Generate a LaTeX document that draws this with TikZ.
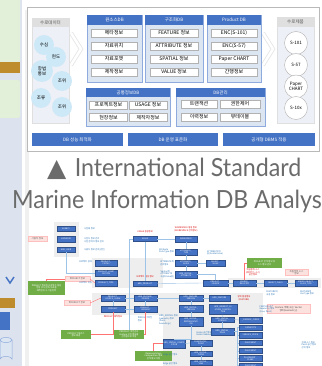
\documentclass[tikz,border=0pt]{standalone}
\usepackage{fontspec}
\setmainfont{Noto Sans CJK KR}
\newfontfamily\ttlfont{Lato}[FakeStretch=0.93]
\newfontfamily\trifont{DejaVu Sans}
\usetikzlibrary{positioning,calc}

\definecolor{hblue}{RGB}{68,114,196}
\definecolor{pfill}{RGB}{220,230,242}
\definecolor{pline}{RGB}{143,170,220}
\definecolor{lav}{RGB}{238,240,247}
\definecolor{bub}{RGB}{205,232,246}
\definecolor{tgreen}{RGB}{112,173,71}
\definecolor{tpink}{RGB}{251,226,222}
\definecolor{lblue}{RGB}{46,117,182}
\definecolor{lnblue}{RGB}{157,195,230}
\definecolor{strip}{RGB}{221,227,238}
\definecolor{ltgreen}{RGB}{226,239,217}
\definecolor{dbrown}{RGB}{190,140,45}

\tikzset{
  panel/.style={draw=pline, fill=pfill, line width=0.5pt},
  hdr/.style={fill=hblue, text=white, inner sep=0, font=\fontsize{4.5}{5}\selectfont},
  ghdr/.style={fill=gray!25, text=gray!70!black, inner sep=0, font=\fontsize{4.5}{5}\selectfont},
  item/.style={draw=gray!60, fill=white, inner sep=0, minimum height=8pt, font=\fontsize{5}{6}\selectfont},
  bubble/.style={circle, fill=bub, inner sep=0, minimum size=20pt, align=center, font=\fontsize{4.5}{5}\selectfont},
  prodc/.style={circle, draw=gray!60, fill=white, inner sep=0, minimum size=23pt, align=center, font=\fontsize{4.5}{4.5}\selectfont},
  dbbar/.style={fill=hblue, text=white, inner sep=0, minimum height=13pt, font=\fontsize{4.5}{5}\selectfont},
  chev/.style={draw=gray!20, double=white, double distance=2.5pt, line width=0.8pt},
  ttl/.style={inner sep=0, text=black!58, font=\ttlfont\fontsize{25}{25}\selectfont},
  tbl/.style={fill=hblue, draw=hblue!70!black, line width=0.2pt, text=white, inner sep=0, align=center, font=\fontsize{2}{2.3}\selectfont},
  grn/.style={fill=tgreen, text=white, inner sep=0, align=center, font=\fontsize{2.2}{2.6}\selectfont},
  pnk/.style={fill=tpink, draw=red!25, line width=0.2pt, text=gray!70!black, inner sep=0, align=center, font=\fontsize{2.4}{2.8}\selectfont},
  lbl/.style={text=lblue, inner sep=0, align=left, font=\fontsize{2.2}{2.6}\selectfont},
  rlbl/.style={text=red!85!black, inner sep=0, align=center, font=\fontsize{2.2}{2.6}\selectfont},
  cn/.style={draw=lnblue, line width=0.4pt},
  rc/.style={draw=red!55, line width=0.4pt},
  grp/.style={fill=gray!13}
}

\begin{document}
\begin{tikzpicture}[x=1pt,y=-1pt]
\useasboundingbox (0,0) rectangle (321,366);
\clip (0,0) rectangle (321,366);
\fill[white] (0,0) rectangle (321,366);

% left page strip
\fill[strip] (0,0) rectangle (22,366);
\fill[ltgreen,rounded corners=2pt] (-3,-3) rectangle (20,62);
\fill[dbrown] (0,62) rectangle (20,73);
\fill[ltgreen,rounded corners=2pt] (-3,80) rectangle (20,118);
\fill[gray!12] (25,10) rectangle (29,366);
\draw[hblue,line width=1.5pt] (6,277) -- (10,283) -- (14,277);
\fill[dbrown] (0,298) rectangle (15,308);
\fill[hblue] (0,312) rectangle (10,330);
\draw[hblue!60,fill=pfill,line width=0.5pt] (0,340) -- (0,359) arc[start angle=180,end angle=360,x radius=6,y radius=2.5] -- (12,340);
\draw[hblue!60,fill=pfill,line width=0.5pt] (6,340) ellipse[x radius=6,y radius=2.5];

% outer frame
\draw[gray!55,fill=white,line width=0.6pt] (27,7) rectangle (319,151);

% hydrographic data
\draw[draw=gray!25,fill=lav] (32,18) rectangle (69,123);
\node[ghdr,minimum width=37pt,minimum height=9pt] (srcdat) at (50.5,22.5) {수로데이터};
\node[bubble] (depth) at (44,45) {수심};
\node[bubble] (chart) at (56,57) {현도};
\node[bubble,minimum size=22pt] (notice) at (42,71) {항법\\통보};
\node[bubble] (tide1) at (62,81) {조위};
\node[bubble] (curr) at (41,98) {조류};
\node[bubble] (tide2) at (62,107) {조위};

\draw[chev] (71,33) -- (81,49) -- (71,65);
\draw[chev] (263,33) -- (273,49) -- (263,65);

% one source DB
\draw[panel] (87,15) rectangle (142,82);
\node[hdr,minimum width=55pt,minimum height=10pt] (onesrc) at (114.5,20) {원소스DB};
\node[item,minimum width=46pt] (meta) at (114,33) {메타정보};
\node[item,minimum width=46pt] (loc) at (114,46) {자료위치};
\node[item,minimum width=46pt] (fmt) at (114,59) {자료포맷};
\node[item,minimum width=46pt] (made) at (114,72) {제작정보};

% structured DB
\draw[panel] (145,15) rectangle (203,82);
\node[hdr,minimum width=58pt,minimum height=10pt] (strdb) at (174,20) {구조화DB};
\node[item,minimum width=48pt] (feat) at (174,33) {FEATURE 정보};
\node[item,minimum width=48pt] (attr) at (174,46) {ATTRIBUTE 정보};
\node[item,minimum width=48pt] (spat) at (174,59) {SPATIAL 정보};
\node[item,minimum width=48pt] (val) at (174,72) {VALUE 정보};

% product DB
\draw[panel] (207,15) rectangle (261,82);
\node[hdr,minimum width=54pt,minimum height=10pt] (proddb) at (234,20) {Product DB};
\node[item,minimum width=46pt] (enc1) at (234,33) {ENC(S-101)};
\node[item,minimum width=46pt] (enc2) at (234,46) {ENC(S-57)};
\node[item,minimum width=46pt] (paper) at (234,59) {Paper CHART};
\node[item,minimum width=46pt] (pub) at (234,72) {간행정보};

% hydrographic products
\draw[draw=gray!25,fill=lav] (277,17) rectangle (314,123);
\node[ghdr,minimum width=37pt,minimum height=10pt] (hprodt) at (295.5,22) {수로제품};
\node[prodc] (s101) at (296,43) {S-101};
\node[prodc] (s57) at (296,65) {S-57};
\node[prodc] (pch) at (296,86.5) {Paper\\CHART};
\node[prodc] (s10x) at (296,108) {S-10x};

% common info DB
\draw[panel] (86,88) rectangle (170,126);
\node[hdr,minimum width=84pt,minimum height=9pt] (comdb) at (128,92.5) {공통정보DB};
\node[item,minimum width=38pt] (proj) at (108.5,105) {프로젝트정보};
\node[item,minimum width=38pt] (usg) at (148,105) {USAGE 정보};
\node[item,minimum width=38pt] (site) at (108.5,117.5) {현장정보};
\node[item,minimum width=38pt] (maker) at (148,117.5) {제작자정보};

% DB management
\draw[panel] (176,88) rectangle (265,126);
\node[hdr,minimum width=89pt,minimum height=9pt] (mgmt) at (220.5,92.5) {DB관리};
\node[item,minimum width=36pt] (trans) at (199,104) {트랜잭션};
\node[item,minimum width=40pt] (auth) at (240,104) {권한제어};
\node[item,minimum width=36pt] (hist) at (199,117) {이력정보};
\node[item,minimum width=40pt] (view) at (240,117) {뷰테이블};

% bottom bars
\node[dbbar,minimum width=91pt] (perf) at (77.5,139.5) {DB 성능 최적화};
\node[dbbar,minimum width=90pt] (oper) at (173,139.5) {DB 운영 표준화};
\node[dbbar,minimum width=92pt] (open) at (269,139.5) {공개형 DBMS 적용};

% title
\node[ttl,anchor=base west] (t1) at (47,176) {{\trifont ▲}\,\,International Standard};
\node[ttl,anchor=base west] (t2) at (12,208) {Marine Information DB Analysis};

% ER diagram: groups
\fill[grp] (54,222) rectangle (79,257);
\fill[grp] (92,258) rectangle (163,288);
\fill[grp] (228,278) rectangle (321,288);
\fill[grp] (92,293) rectangle (163,315);
\fill[grp] (163,293) rectangle (263,366);

% tables
\node[tbl,minimum width=18pt,minimum height=5pt] (agency) at (66,228.5) {AGENCY};
\node[tbl,minimum width=18pt,minimum height=6pt] (surv) at (66,239) {SURVEYOR};
\node[tbl,minimum width=18pt,minimum height=5pt] (hrduser) at (66,249.5) {HRD\_USER};
\node[tbl,minimum width=22pt,minimum height=6pt] (pstat) at (106,263) {PRODUCT\_\\STATUS};
\node[tbl,minimum width=22pt,minimum height=6pt] (pcomp) at (106,273) {PRODUCT\_COMP\\OSITION};
\node[tbl,minimum width=22pt,minimum height=6pt] (ptype) at (106,283) {PRODUCT\_TYPE};
\node[tbl,minimum width=24pt,minimum height=5pt] (usage) at (145,239) {USAGE};
\node[tbl,minimum width=24pt,minimum height=5pt] (hprod) at (145,283.5) {HRD\_PRODUCT};
\node[tbl,minimum width=24pt,minimum height=6pt] (psu) at (113,298) {PRODUCT\_\\SOURCE\_USAGE};
\node[tbl,minimum width=24pt,minimum height=6pt] (prod) at (113,309) {PRODUCT};
\node[tbl,minimum width=23pt,minimum height=6pt] (hfs) at (145.5,298) {HRD\_FEATURE\_\\SOURCE};
\node[tbl,minimum width=23pt,minimum height=6pt] (pver) at (145.5,309) {PRODUCT\_\\VERSION};
\node[tbl,minimum width=22pt,minimum height=6pt] (wksp) at (186,239) {WORKSPACE};
\node[tbl,minimum width=22pt,minimum height=6pt] (atype) at (186,252) {ATTRIBUTE\_\\TYPE};
\node[tbl,minimum width=22pt,minimum height=6pt] (aguide) at (186,263) {ATTRIBUTE\_\\GUIDE};
\node[tbl,minimum width=19pt,minimum height=6pt] (value) at (215.5,263) {OBJECT\_\\VALUE};
\node[tbl,minimum width=22pt,minimum height=7pt] (hsa) at (186,274.5) {HRD\_SPATIAL\_\\ATTRIBUTE};
\node[tbl,minimum width=25pt,minimum height=6pt] (psrc) at (215.5,283) {PROJECT\_\\SOURCE};
\node[tbl,minimum width=23pt,minimum height=6pt] (sreg) at (244.5,283) {SOURCE\_\\REGISTRY};
\node[tbl,minimum width=23pt,minimum height=6pt] (ocls) at (275.5,283) {OBJECT\_CLASS};
\node[tbl,minimum width=22pt,minimum height=6pt] (uoct) at (306,283) {UNDER\_OBJECT\_\\CLASS\_TYPE};
\node[tbl,minimum width=24pt,minimum height=6pt] (hfv) at (191,298) {HPD\_FEATURE\_\\VERSION};
\node[tbl,minimum width=21pt,minimum height=6pt] (hfeat) at (219.5,298) {HRD\_FEATURE};
\node[tbl,minimum width=24pt,minimum height=7pt] (hsv) at (191,308.5) {HRD\_SPATIAL\_\\VERSION};
\node[tbl,minimum width=28pt,minimum height=10pt] (hifc) at (223,309.5) {HPD\_INDIRECT\_FE\\ATURE\_COMPOSI\\TION};
\node[tbl,minimum width=24pt,minimum height=9pt] (hsr) at (191,321.5) {HRD\_SPATIAL\_\\REPRESENTATI\\ON};
\node[tbl,minimum width=23pt,minimum height=5pt] (hss) at (222.5,319.5) {HRD\_SPATIAL\_\\SURFACE};
\node[tbl,minimum width=23pt,minimum height=7pt] (hse) at (222.5,331.5) {HRD\_SPATIAL\_\\EDGE};
\node[tbl,minimum width=23pt,minimum height=6pt] (sc) at (250.5,320) {\_SURFACE\_CURVE};
\node[tbl,minimum width=23pt,minimum height=5pt] (r1) at (250.5,327.5) {CURVETYPE};
\node[tbl,minimum width=23pt,minimum height=6pt] (r2) at (250.5,335) {SURFACE\_PATCH};
\node[tbl,minimum width=23pt,minimum height=5pt] (r3) at (250.5,343) {PLACEMENT};
\node[tbl,minimum width=23pt,minimum height=5pt] (r4) at (250.5,351) {PLACEMENT};
\node[tbl,minimum width=23pt,minimum height=6pt] (r5) at (250.5,358.5) {PLACEMENT\_\\PLANE};
\node[tbl,minimum width=23pt,minimum height=5pt] (r6) at (250.5,365.5) {PLACEMENT};
\node[tbl,minimum width=22pt,minimum height=6pt] (cpt) at (201,343) {COMPOSITES\_\\POINT};
\node[tbl,minimum width=22pt,minimum height=5pt] (hsc) at (201,353.5) {HRD\_SPATIAL\_\\CURVE};
\node[tbl,minimum width=22pt,minimum height=5pt] (hsl) at (201,362.5) {HRD\_SPATIAL\_\\LINE};
\node[tbl,minimum width=22pt,minimum height=9pt] (hscomp) at (174,343.5) {HRD\_SPATIAL\_COMPO\\SITION};

% notes
\node[grn,minimum width=37pt,minimum height=14pt] (g1) at (46.5,288) {PROJECT 정보의 프로젝트 생성\\현장 조사/관측 자료를\\제작관리 시스템 입력};
\node[grn,minimum width=30pt,minimum height=9pt] (g2) at (76,334.5) {PRODUCT 릴리즈\\정보 제공};
\node[grn,minimum width=30pt,minimum height=9pt] (g3) at (129,334.5) {PRODUCT 버전관리\\Feature 단위 정보를\\관계형으로 저장};
\node[grn,minimum width=37pt,minimum height=10pt] (g4) at (153.5,356) {Representation\\Composition 정보\\관계 정보 저장};
\node[grn,minimum width=35pt,minimum height=10pt] (g5) at (264.5,263) {PROJECT 관계 정보 및\\소스 정보 관리};
\node[pnk,minimum width=19pt,minimum height=5pt] (p1) at (37.5,238.5) {사용자 정보};
\node[pnk,minimum width=25pt,minimum height=5pt] (p2) at (77.5,279) {PROJECT 정보};
\node[pnk,minimum width=26pt,minimum height=5pt] (p3) at (77,303) {PRODUCT 정보};
\node[pnk,minimum width=23pt,minimum height=6pt] (p4) at (296.5,272.5) {독립정의 소스\\정보};
\node[pnk,minimum width=43pt,minimum height=9pt] (p5) at (288.5,309) {Feature 객체(속성, Vector\\형태(Geometry))};

\node[rlbl] (usgnote) at (145,232) {USAGE 생성정보};
\node[rlbl] (prjnote) at (145,276.5) {프로젝트 생성 정보};
\node[rlbl] (wsnote) at (186,229.5) {WORKSPACE 생성 정보\\(WORKSPACE 관계정보)};
\node[rlbl] (srcnote) at (253,272.5) {독립정의 소스\\(레퍼런스 소스)\\공간정보};
\node[rlbl] (prdnote) at (113,316.5) {PRODUCT제작정보};
\node[rlbl] (ftnote) at (244,298) {항목 생성정보\\(FEATURE)};

\node[lbl,anchor=west] (a1) at (84,228.5) {사업체 정보};
\node[lbl,anchor=west] (a2) at (84,240) {사업자 정보 관리\\사업 참여자 정보 관리};
\node[lbl,anchor=west] (a3) at (84,250) {사용자 정보 관리(권한)};
\node[lbl,anchor=east] (a4) at (92,262) {프로젝트 상태};
\node[lbl,anchor=east] (a5) at (92,283) {프로젝트 유형};
\node[lbl] (a6) at (145,319) {PRODUCT버전\\정보};
\node[lbl,anchor=east] (a7) at (174,251) {Attribute\\Data Type 정보};
\node[lbl,anchor=east] (a8) at (174,263) {ATTRIBUTE의\\관리정보};
\node[lbl,anchor=east] (a9) at (174,274) {Spatial의\\ATTRIBUTE\\속성(Value값)};
\node[lbl] (a10) at (215,253) {ATTRIBUTE의\\값(Guide Value)};
\node[lbl] (a11) at (272,293) {FEATURE의\\속성 정보};
\node[lbl] (a12) at (307,293) {FEATURE의\\Use Type 정보};
\node[lbl] (a13) at (267,309) {FEATURE 공간\\Geometry 정보\\(Line, Point)};
\node[lbl,anchor=east] (a14) at (178,320) {HRD\_SPATIAL 정보\\Geometry 정보\\(Point,\\Soundings)};
\node[lbl] (a15) at (205,334) {Vector 공간정보\\Vector Geometry};
\node[lbl] (a16) at (309,345) {개체 소스 정보\\Point 공간 정보\\관리 정보};
\node[lbl,anchor=west] (a17) at (163,355) {Edge 공간 정보};
\node[lbl,anchor=west] (a18) at (163,364) {Edge 공간 정보};

% connectors
\draw[cn] (hrduser.south) |- (pcomp.west);
\draw[cn] (usage.south) -- (hprod.north);
\draw[cn] (usage.east) -- (wksp.west);
\draw[cn] (usage.west) -| (g3.north);
\draw[cn] (hprod.east) -- (psrc.west);
\draw[cn] (psrc.east) -- (sreg.west);
\draw[cn] (sreg.east) -- (ocls.west);
\draw[cn] (ocls.east) -- (uoct.west);
\draw[cn] (wksp.south) -- (atype.north);
\draw[cn] (atype.south) -- (aguide.north);
\draw[cn] (aguide.south) -- (hsa.north);
\draw[cn] (aguide.east) -- (value.west);
\draw[cn] (hsa.east) -| (psrc.north);
\draw[cn] (psu.south) -- (prod.north);
\draw[cn] (hfs.south) -- (pver.north);
\draw[cn] (psu.east) -- (hfs.west);
\draw[cn] (prod.east) -- (pver.west);
\draw[cn] (hfs.east) -- (hfv.west);
\draw[cn] (hfv.east) -- (hfeat.west);
\draw[cn] (hfv.south) -- (hsv.north);
\draw[cn] (hsv.south) -- (hsr.north);
\draw[cn] (hifc.south) -- (hss.north);
\draw[cn] (hss.south) -- (hse.north);
\draw[cn] (hss.east) -- (sc.west);
\foreach \r in {r1,r2,r3,r4,r5,r6}
  \draw[cn] (hse.east) -| ++(3,0) |- (\r.west);
\draw[cn] (hsr.south) |- (hscomp.north);
\draw[cn] (hscomp.east) -- (cpt.west);
\draw[cn] (cpt.south) -- (hsc.north);
\draw[cn] (hsc.south) -- (hsl.north);
\draw[rc] (g1.north) |- (p2.west);
\draw[rc] (p2.east) -- (ptype.west);
\draw[rc] (p3.east) -- (psu.west);
\draw[rc] (g2.east) -| (prod.south);
\draw[rc] (g3.east) -| (pver.south);
\draw[rc] (g4.north) |- (hscomp.west);
\draw[rc] (g5.west) -| (sreg.north);
\end{tikzpicture}
\end{document}
